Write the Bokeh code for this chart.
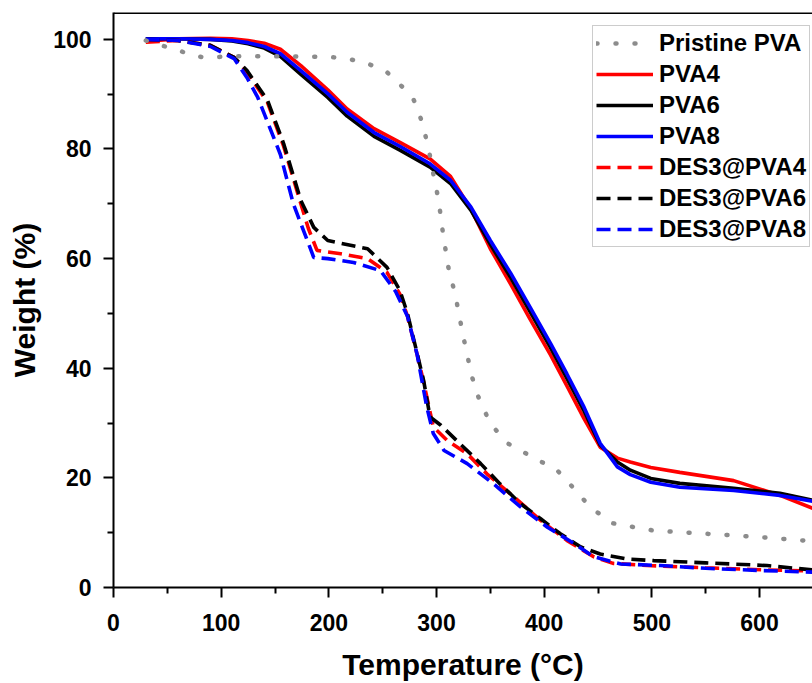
from bokeh.plotting import figure
from bokeh.models import Range1d, Legend, LegendItem, FixedTicker, Span
from bokeh.embed import file_html
from bokeh.resources import INLINE

# ---- data ----
pristine_T = [30, 44, 56, 73, 84, 112, 150, 200, 217, 236, 254, 269, 279, 287, 293, 297, 302, 306, 311,
              316, 319, 322, 325, 328, 333, 339, 350, 366, 390, 412, 427, 443, 464, 501, 542, 576, 607, 638, 650]
pristine_W = [99.8, 98.9, 98.3, 97.1, 96.7, 96.9, 96.9, 96.8, 96.5, 95.6, 94.0, 91.2, 88.9, 84.7, 79.7, 75.5,
              70.6, 64.6, 58.4, 54.5, 51.8, 48.7, 45.7, 42.9, 38.4, 34.7, 29.9, 26.3, 23.7, 21.4, 18.2, 14.6,
              11.7, 10.4, 9.9, 9.5, 9.1, 8.6, 8.5]

pva_T = [30, 60, 90, 110, 125, 140, 155, 174, 199, 217, 242, 266, 294, 313, 332, 350, 369, 387, 406, 421,
         437, 452, 468, 480, 499, 526, 576, 619, 650]
pva4_W = [99.6, 100.1, 100.2, 100.1, 99.8, 99.3, 98.2, 95.2, 90.8, 87.3, 83.7, 81.2, 78.2, 75.0, 69.0, 61.8,
          55.3, 48.9, 42.4, 36.8, 30.8, 25.6, 23.6, 22.9, 21.9, 21.0, 19.5, 16.8, 14.4]
pva6_W = [100.1, 100.1, 100.0, 99.7, 99.2, 98.4, 96.9, 93.6, 89.4, 86.0, 82.3, 79.8, 76.7, 73.7, 68.8, 62.6,
          56.5, 50.3, 43.7, 38.2, 32.2, 26.0, 22.9, 21.4, 19.9, 19.0, 18.1, 17.2, 15.9]
pva8_W = [100.1, 100.1, 100.0, 99.8, 99.4, 98.7, 97.4, 94.3, 90.1, 86.7, 83.0, 80.5, 77.3, 74.3, 69.4, 63.3,
          57.3, 51.1, 44.5, 39.0, 32.9, 26.3, 22.0, 20.6, 19.2, 18.3, 17.7, 16.8, 15.7]

des4_T = [30, 60, 90, 112, 124, 143, 158, 174, 181, 189, 211, 236, 254, 266, 273, 282, 288, 297, 310, 328.5,
          347, 372, 397, 421, 446, 464, 496, 550, 607, 650]
des4_W = [99.5, 99.8, 98.9, 96.7, 94.0, 88.5, 80.5, 70.0, 65.5, 61.5, 60.9, 60.0, 57.5, 53.5, 49.5, 42.5,
          37.5, 29.3, 26.8, 24.4, 20.7, 16.5, 12.2, 8.6, 5.6, 4.4, 4.0, 3.6, 3.2, 3.0]

des6_T = [30, 60, 90, 112, 124, 143, 158, 174, 186, 199, 211, 236, 254, 266, 273, 282, 288, 294, 304, 322,
          341, 359, 378, 397, 415, 434, 452, 477, 502, 550, 607, 650]
des6_W = [100.0, 99.8, 98.9, 96.7, 94.3, 88.9, 81.0, 70.6, 65.7, 63.3, 62.8, 61.8, 58.4, 54.2, 50.0, 42.7,
          37.8, 31.1, 29.6, 26.2, 22.6, 18.9, 15.3, 12.5, 9.8, 7.4, 6.1, 5.2, 4.9, 4.5, 4.0, 3.2]

des8_T = [30, 60, 90, 112, 124, 134, 155, 167, 180, 186, 199, 223, 248, 262, 273, 282, 291, 297, 307, 328.5,
          353, 378, 403, 428, 446, 471, 508, 550, 600, 650]
des8_W = [100.0, 99.8, 98.7, 96.5, 93.0, 89.4, 79.0, 70.0, 63.3, 60.2, 60.0, 59.3, 57.8, 54.0, 49.5, 42.5,
          32.9, 28.1, 25.0, 22.6, 18.9, 14.7, 11.0, 8.0, 5.6, 4.3, 4.0, 3.5, 3.1, 2.8]

x_ticks = [0, 100, 200, 300, 400, 500, 600]
x_minor = [50, 150, 250, 350, 450, 550, 650]
y_ticks = [0, 20, 40, 60, 80, 100]
y_minor = [10, 30, 50, 70, 90]
y_top = 104.9

FONT = "Liberation Sans"

p = figure(width=812, height=683, x_range=Range1d(0, 649.2), y_range=Range1d(0, y_top),
           output_backend="svg", toolbar_location=None,
           min_border_left=113, min_border_right=0, min_border_top=12, min_border_bottom=96)
p.outline_line_color = None
p.grid.visible = False
p.background_fill_color = "white"
p.border_fill_color = "white"

# top frame border only (the reference is cropped on the right)
p.add_layout(Span(location=y_top - 0.1, dimension="width", line_color="black", line_width=2))

for ax, ticks, minor in ((p.xaxis[0], x_ticks, x_minor), (p.yaxis[0], y_ticks, y_minor)):
    ax.ticker = FixedTicker(ticks=ticks, minor_ticks=minor)
    ax.axis_line_width = 2
    ax.major_tick_line_width = 2
    ax.minor_tick_line_width = 2
    ax.major_tick_in = 0
    ax.major_tick_out = 10
    ax.minor_tick_in = 0
    ax.minor_tick_out = 6
    ax.major_label_text_font = FONT
    ax.major_label_text_font_style = "bold"
    ax.major_label_text_font_size = "23px"
    ax.major_label_text_color = "black"
    ax.axis_label_text_font = FONT
    ax.axis_label_text_font_style = "bold"
    ax.axis_label_text_font_size = "30px"
    ax.axis_label_text_color = "black"

p.xaxis.axis_label = "Temperature (°C)"
p.yaxis.axis_label = "Weight (%)"
p.xaxis.major_label_standoff = 16
p.xaxis.axis_label_standoff = 14
p.yaxis.major_label_standoff = 12
p.yaxis.axis_label_standoff = 9

SOLID_W = 3.6
DASH = "14 7"
r_p4 = p.line(pva_T, pva4_W, line_color="#ff0000", line_width=SOLID_W)
r_p6 = p.line(pva_T, pva6_W, line_color="black", line_width=SOLID_W)
r_p8 = p.line(pva_T, pva8_W, line_color="#0000ff", line_width=SOLID_W)
r_d4 = p.line(des4_T, des4_W, line_color="#ff0000", line_width=SOLID_W, line_dash=DASH)
r_d6 = p.line(des6_T, des6_W, line_color="black", line_width=SOLID_W, line_dash=DASH)
r_d8 = p.line(des8_T, des8_W, line_color="#0000ff", line_width=SOLID_W, line_dash=DASH)
r_pr = p.line(pristine_T, pristine_W, line_color="#8c8c8c", line_width=4.5, line_dash="1 18",
              line_cap="round")

legend = Legend(items=[
    LegendItem(label="Pristine PVA", renderers=[r_pr]),
    LegendItem(label="PVA4", renderers=[r_p4]),
    LegendItem(label="PVA6", renderers=[r_p6]),
    LegendItem(label="PVA8", renderers=[r_p8]),
    LegendItem(label="DES3@PVA4", renderers=[r_d4]),
    LegendItem(label="DES3@PVA6", renderers=[r_d6]),
    LegendItem(label="DES3@PVA8", renderers=[r_d8]),
], location=(479, 340))
legend.label_text_font = FONT
legend.label_text_font_style = "bold"
legend.label_text_font_size = "24px"
legend.label_text_color = "black"
legend.label_height = 28
legend.glyph_height = 28
legend.glyph_width = 57
legend.label_standoff = 6
legend.spacing = 3
legend.padding = 3
legend.margin = 0
legend.border_line_color = "#9a9a9a"
legend.border_line_width = 1
legend.background_fill_alpha = 1
p.add_layout(legend)

open("out.html", "w").write(file_html(p, INLINE))
